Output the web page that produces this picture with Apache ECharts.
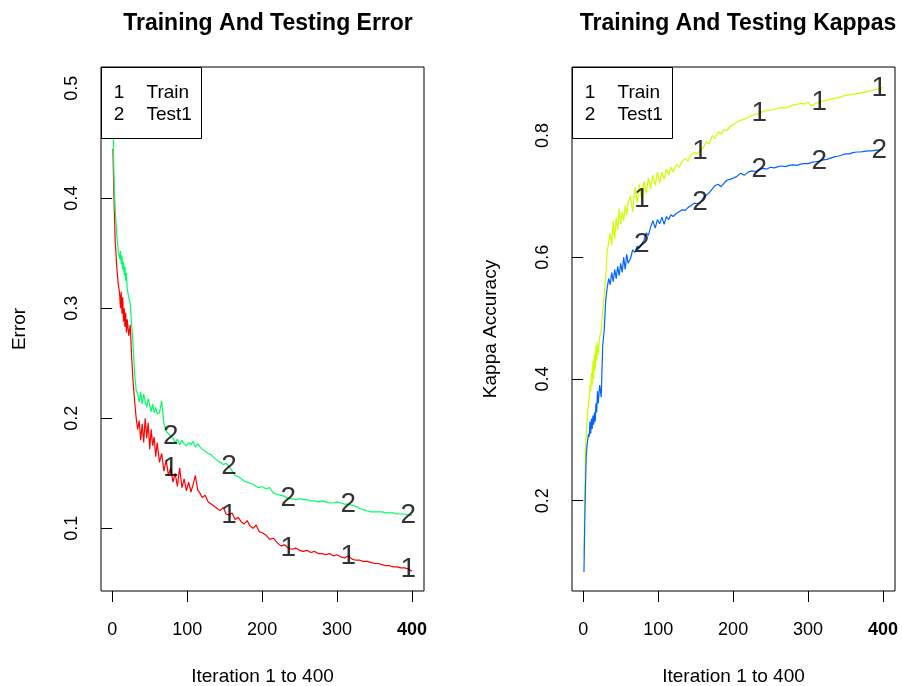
<!DOCTYPE html>
<html>
<head>
<meta charset="utf-8">
<script src="https://cdn.jsdelivr.net/npm/echarts@6/dist/echarts.min.js"></script>
<style>
html, body { margin: 0; padding: 0; background: #fff; }
#chart { width: 902px; height: 686px; }
</style>
</head>
<body>
<div id="chart"></div>
<script>
// iteration numbers
var iters = [1,2,3,4,5,6,7,8,9,10,11,12,13,14,15,16,17,18,19,20,
  22,24,26,28,30,32,34,36,38,40,42,44,46,48,50,52,54,56,58,60,
  63,66,69,72,75,78,81,84,87,90,93,96,99,102,105,108,111,114,117,120,
  124,128,132,136,140,144,148,152,156,160,164,168,172,176,180,184,188,192,196,200,
  205,210,215,220,225,230,235,240,245,250,255,260,265,270,275,280,285,290,295,300,
  305,310,315,320,325,330,335,340,345,350,355,360,365,370,375,380,385,390,395,400];

var trainError = [0.445,0.41,0.385,0.36,0.35,0.338,0.33,0.322,0.318,0.312,0.3,0.315,0.295,0.31,0.288,0.3,0.283,0.296,0.278,0.29,
  0.275,0.285,0.255,0.232,0.215,0.2,0.19,0.198,0.18,0.195,0.178,0.2,0.182,0.196,0.172,0.19,0.175,0.183,0.165,0.178,
  0.16,0.168,0.152,0.162,0.148,0.155,0.142,0.15,0.138,0.155,0.137,0.145,0.134,0.142,0.133,0.14,0.148,0.135,0.132,0.128,
  0.13,0.124,0.122,0.12,0.118,0.116,0.119,0.113,0.112,0.114,0.108,0.11,0.106,0.104,0.107,0.102,0.1,0.103,0.097,0.096,
  0.094,0.09,0.091,0.087,0.084,0.085,0.082,0.081,0.082,0.08,0.079,0.08,0.078,0.079,0.077,0.077,0.076,0.077,0.075,0.076,
  0.074,0.073,0.075,0.072,0.071,0.071,0.07,0.07,0.069,0.068,0.068,0.067,0.066,0.066,0.065,0.065,0.064,0.064,0.063,0.061];

var testError = [0.5,0.43,0.405,0.39,0.378,0.368,0.36,0.352,0.348,0.345,0.352,0.34,0.348,0.335,0.342,0.33,0.338,0.325,0.332,0.318,
  0.31,0.305,0.285,0.265,0.24,0.225,0.222,0.215,0.224,0.213,0.222,0.215,0.21,0.218,0.212,0.206,0.213,0.205,0.21,0.204,
  0.205,0.216,0.195,0.188,0.186,0.184,0.182,0.178,0.181,0.176,0.18,0.177,0.175,0.178,0.176,0.179,0.174,0.177,0.174,0.172,
  0.17,0.168,0.167,0.164,0.162,0.16,0.158,0.159,0.156,0.152,0.148,0.147,0.145,0.143,0.142,0.141,0.14,0.138,0.137,0.138,
  0.136,0.137,0.132,0.131,0.13,0.129,0.127,0.127,0.126,0.127,0.126,0.126,0.125,0.125,0.124,0.125,0.124,0.123,0.123,0.124,
  0.123,0.122,0.122,0.121,0.12,0.118,0.117,0.116,0.115,0.115,0.115,0.115,0.114,0.114,0.114,0.113,0.113,0.113,0.112,0.112];

var trainKappa = [0.11,0.206,0.288,0.31,0.33,0.345,0.36,0.37,0.39,0.38,0.41,0.39,0.43,0.4,0.44,0.415,0.455,0.43,0.46,0.44,
  0.47,0.48,0.51,0.54,0.565,0.61,0.625,0.64,0.62,0.66,0.63,0.665,0.645,0.68,0.655,0.675,0.66,0.685,0.67,0.69,
  0.7,0.675,0.715,0.69,0.72,0.695,0.725,0.705,0.73,0.712,0.735,0.718,0.74,0.722,0.74,0.728,0.745,0.735,0.748,0.74,
  0.752,0.748,0.758,0.762,0.758,0.768,0.772,0.77,0.775,0.78,0.79,0.786,0.8,0.795,0.806,0.802,0.81,0.808,0.815,0.818,
  0.822,0.825,0.827,0.83,0.833,0.835,0.836,0.84,0.841,0.842,0.843,0.845,0.846,0.845,0.848,0.85,0.851,0.853,0.852,0.855,
  0.848,0.853,0.855,0.857,0.858,0.86,0.861,0.862,0.864,0.866,0.867,0.868,0.869,0.87,0.871,0.873,0.874,0.876,0.877,0.879];

var testKappa = [0.083,0.16,0.222,0.272,0.29,0.3,0.31,0.305,0.33,0.31,0.335,0.318,0.34,0.325,0.345,0.33,0.36,0.345,0.38,0.36,
  0.39,0.37,0.455,0.48,0.53,0.55,0.565,0.555,0.575,0.56,0.58,0.565,0.585,0.57,0.59,0.575,0.6,0.58,0.605,0.59,
  0.598,0.612,0.608,0.618,0.615,0.622,0.628,0.64,0.636,0.65,0.66,0.648,0.662,0.655,0.666,0.654,0.667,0.662,0.67,0.667,
  0.672,0.675,0.678,0.677,0.682,0.685,0.689,0.688,0.69,0.697,0.702,0.706,0.712,0.718,0.72,0.716,0.722,0.727,0.728,0.73,
  0.733,0.738,0.735,0.74,0.742,0.741,0.744,0.746,0.745,0.748,0.747,0.749,0.75,0.749,0.751,0.752,0.751,0.753,0.754,0.754,
  0.756,0.757,0.758,0.76,0.761,0.763,0.765,0.766,0.768,0.77,0.77,0.772,0.773,0.773,0.774,0.775,0.775,0.776,0.776,0.778];

var xTicks = [0, 100, 200, 300, 400];
var errorTicks = [0.1, 0.2, 0.3, 0.4, 0.5];
var kappaTicks = [0.2, 0.4, 0.6, 0.8];
var labelIters = [79, 158, 237, 316, 395];
var legendNames = ['Train', 'Test1'];

var FONT = '"Liberation Sans", Arial, Helvetica, sans-serif';
var chart = echarts.init(document.getElementById('chart'));

function pairs(vals) {
  return iters.map(function (it, i) { return [it, vals[i]]; });
}
// curve number labels sit on the sample nearest to each label iteration
function labelPoints(vals) {
  return labelIters.map(function (li) {
    var best = 0;
    for (var k = 0; k < iters.length; k++) {
      if (Math.abs(iters[k] - li) < Math.abs(iters[best] - li)) best = k;
    }
    return [iters[best], vals[best]];
  });
}

function xAxisOf(idx) {
  return {
    type: 'value', gridIndex: idx, min: -14.96, max: 415.96,
    axisLine: { show: false }, splitLine: { show: false },
    axisTick: { show: true, length: 11, customValues: xTicks, lineStyle: { color: '#000' } },
    axisLabel: {
      customValues: xTicks, margin: 30, fontSize: 18, color: '#000', fontFamily: FONT,
      formatter: function (v) { return v === 400 ? '{b|400}' : String(v); },
      rich: { b: { fontWeight: 'bold', fontSize: 18, color: '#000', fontFamily: FONT } }
    },
    name: 'Iteration 1 to 400', nameLocation: 'middle', nameGap: 76,
    nameTextStyle: { fontSize: 19, color: '#000', fontFamily: FONT }
  };
}
function yAxisOf(idx, min, max, ticks, name) {
  return {
    type: 'value', gridIndex: idx, min: min, max: max,
    axisLine: { show: false }, splitLine: { show: false },
    axisTick: { show: true, length: 11, customValues: ticks, lineStyle: { color: '#000' } },
    axisLabel: {
      customValues: ticks, rotate: 90, margin: 20, fontSize: 18, color: '#000', fontFamily: FONT,
      formatter: function (v) { return v.toFixed(1); }
    },
    name: name, nameLocation: 'middle', nameGap: 72,
    nameTextStyle: { fontSize: 19, color: '#000', fontFamily: FONT }
  };
}
function lineSeries(idx, vals, color) {
  return {
    type: 'line', xAxisIndex: idx, yAxisIndex: idx, data: pairs(vals),
    showSymbol: false, symbol: 'none', animation: false, silent: true,
    lineStyle: { color: color, width: 1.2 }, z: 2
  };
}
function numberSeries(idx, vals, txt) {
  return {
    type: 'scatter', xAxisIndex: idx, yAxisIndex: idx, data: labelPoints(vals),
    symbolSize: 1, itemStyle: { color: 'rgba(0,0,0,0)' }, silent: true, animation: false, z: 5,
    label: { show: true, position: 'inside', formatter: txt, fontSize: 28, color: '#000',
      textBorderWidth: 0, fontFamily: FONT }
  };
}
function legendGraphics(left) {
  var g = [{
    type: 'rect', z: 100,
    shape: { x: left + 0.5, y: 67.5, width: 100, height: 71 },
    style: { fill: '#fff', stroke: '#000', lineWidth: 1 }
  }];
  legendNames.forEach(function (nm, i) {
    var y = 92.5 + i * 22.5;
    g.push({ type: 'text', z: 101, x: left + 18, y: y,
      style: { text: String(i + 1), fontSize: 19, fontFamily: FONT, fill: '#000', align: 'center', verticalAlign: 'middle' } });
    g.push({ type: 'text', z: 101, x: left + 45.5, y: y,
      style: { text: nm, fontSize: 19, fontFamily: FONT, fill: '#000', align: 'left', verticalAlign: 'middle' } });
  });
  return g;
}

var gridBase = { top: 67, width: 323, height: 524, show: true, borderColor: '#000', borderWidth: 1,
  backgroundColor: 'transparent', outerBoundsMode: 'none', containLabel: false };

chart.setOption({
  backgroundColor: '#fff',
  animation: false,
  title: [
    { text: 'Training And Testing Error', left: 263, top: 7, textAlign: 'center',
      textStyle: { fontSize: 23, fontWeight: 'bold', color: '#000', fontFamily: FONT } },
    { text: 'Training And Testing Kappas', left: 733, top: 7, textAlign: 'center',
      textStyle: { fontSize: 23, fontWeight: 'bold', color: '#000', fontFamily: FONT } }
  ],
  grid: [
    Object.assign({ left: 101 }, gridBase),
    Object.assign({ left: 572 }, gridBase)
  ],
  xAxis: [xAxisOf(0), xAxisOf(1)],
  yAxis: [
    yAxisOf(0, 0.043, 0.5194, errorTicks, 'Error'),
    yAxisOf(1, 0.0516, 0.9127, kappaTicks, 'Kappa Accuracy')
  ],
  series: [
    lineSeries(0, trainError, '#FF0000'),
    lineSeries(0, testError, '#00FF66'),
    lineSeries(1, trainKappa, '#CCFF00'),
    lineSeries(1, testKappa, '#0066FF'),
    numberSeries(0, trainError, '1'),
    numberSeries(0, testError, '2'),
    numberSeries(1, trainKappa, '1'),
    numberSeries(1, testKappa, '2')
  ],
  graphic: legendGraphics(101).concat(legendGraphics(572))
});
</script>
</body>
</html>
